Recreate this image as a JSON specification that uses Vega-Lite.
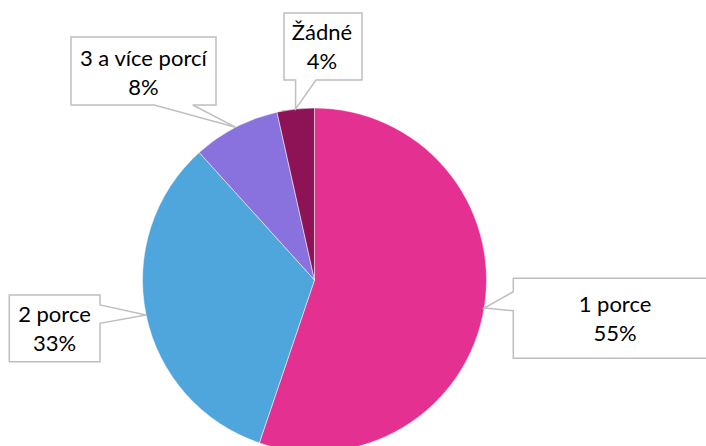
{
  "$schema": "https://vega.github.io/schema/vega-lite/v6.json",
  "width": 629,
  "height": 332,
  "padding": {"left": 0, "top": 114, "right": 77, "bottom": 0},
  "autosize": {"type": "none"},
  "background": "white",
  "config": {"view": {"stroke": null}},
  "data": {
    "values": [
      {"label": "1 porce", "value": 55.2, "txt": "1 porce\n55%", "i": 1},
      {"label": "2 porce", "value": 33.1, "txt": "2 porce\n33%", "i": 2},
      {"label": "3 a více porcí", "value": 8.2, "txt": "3 a více porcí\n8%", "i": 3},
      {"label": "Žádné", "value": 3.5, "txt": "Žádné\n4%", "i": 4}
    ]
  },
  "layer": [
    {
      "mark": {"type": "arc", "radius": 172, "stroke": "white", "strokeWidth": 0.5},
      "encoding": {
        "theta": {"field": "value", "type": "quantitative", "stack": true},
        "order": {"field": "i", "type": "quantitative"},
        "color": {
          "field": "label",
          "type": "nominal",
          "scale": {
            "domain": ["1 porce", "2 porce", "3 a více porcí", "Žádné"],
            "range": ["#E43091", "#4EA6DC", "#8A72DE", "#8E1356"]
          },
          "legend": null
        }
      }
    },
    {
      "mark": {"type": "point", "filled": true, "fill": "white", "stroke": "#BFBFBF", "strokeWidth": 1.5, "size": 4, "opacity": 1},
      "encoding": {
        "shape": {
          "field": "label",
          "type": "nominal",
          "scale": {
            "domain": ["1 porce", "2 porce", "3 a více porcí", "Žádné"],
            "range": [
              "M198.8,-1.7H402.5V78.3H198.8V30.7L169.7,28L198.8,11.7Z",
              "M-305.2,15H-214.5V25L-168.4,34.9L-214.5,43.3V81.7H-305.2Z",
              "M-243.5,-243H-98.5V-175H-121.8L-79.1,-152.8L-160.2,-175H-243.5Z",
              "M-30.5,-267H47.5V-200H1.5L-18.9,-171L-18.9,-200H-30.5Z"
            ]
          },
          "legend": null
        }
      }
    },
    {
      "mark": {"type": "text", "radius": 172, "dx": 130.8, "dy": 4.3, "align": "center", "baseline": "alphabetic", "lineBreak": "\n", "lineHeight": 29, "font": "Lato", "fontSize": 22, "color": "#000000"},
      "encoding": {
        "theta": {"field": "value", "type": "quantitative", "stack": true},
        "order": {"field": "i", "type": "quantitative"},
        "text": {"field": "txt", "type": "nominal"},
        "opacity": {"condition": {"test": "datum.label === '1 porce'", "value": 1}, "value": 0}
      }
    },
    {
      "mark": {"type": "text", "radius": 172, "dx": -91.6, "dy": 7.4, "align": "center", "baseline": "alphabetic", "lineBreak": "\n", "lineHeight": 29, "font": "Lato", "fontSize": 22, "color": "#000000"},
      "encoding": {
        "theta": {"field": "value", "type": "quantitative", "stack": true},
        "order": {"field": "i", "type": "quantitative"},
        "text": {"field": "txt", "type": "nominal"},
        "opacity": {"condition": {"test": "datum.label === '2 porce'", "value": 1}, "value": 0}
      }
    },
    {
      "mark": {"type": "text", "radius": 172, "dx": -92.1, "dy": -61.6, "align": "center", "baseline": "alphabetic", "lineBreak": "\n", "lineHeight": 29, "font": "Lato", "fontSize": 22, "color": "#000000"},
      "encoding": {
        "theta": {"field": "value", "type": "quantitative", "stack": true},
        "order": {"field": "i", "type": "quantitative"},
        "text": {"field": "txt", "type": "nominal"},
        "opacity": {"condition": {"test": "datum.label === '3 a více porcí'", "value": 1}, "value": 0}
      }
    },
    {
      "mark": {"type": "text", "radius": 172, "dx": 26.4, "dy": -69, "align": "center", "baseline": "alphabetic", "lineBreak": "\n", "lineHeight": 29, "font": "Lato", "fontSize": 22, "color": "#000000"},
      "encoding": {
        "theta": {"field": "value", "type": "quantitative", "stack": true},
        "order": {"field": "i", "type": "quantitative"},
        "text": {"field": "txt", "type": "nominal"},
        "opacity": {"condition": {"test": "datum.label === 'Žádné'", "value": 1}, "value": 0}
      }
    }
  ]
}
